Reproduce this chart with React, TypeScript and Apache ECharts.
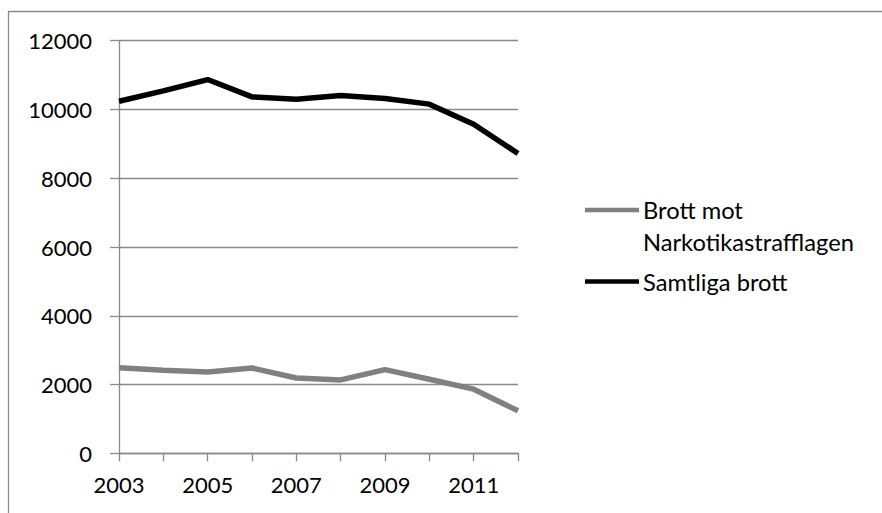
import React, { useEffect, useRef } from "react";
import * as echarts from "echarts";

const years = ["2003", "2004", "2005", "2006", "2007", "2008", "2009", "2010", "2011", "2012"];
const narkotika = [2490, 2415, 2365, 2480, 2190, 2135, 2435, 2155, 1865, 1235];
const samtliga = [10240, 10540, 10870, 10365, 10300, 10405, 10320, 10155, 9570, 8720];
const seriesNames = ["Brott mot Narkotikastrafflagen", "Samtliga brott"];
const legendLabels = ["Brott mot\nNarkotikastrafflagen", "Samtliga brott"];
const seriesColors = ["#808080", "#000000"];
const yMin = 0;
const yMax = 12000;
const yStep = 2000;

const FONT = "Lato";
const GRID = "#8a8a8a";

export default function App() {
  const ref = useRef<HTMLDivElement>(null);
  useEffect(() => {
    if (!ref.current) return;
    const chart = echarts.init(ref.current, null, { renderer: "svg" });
    chart.setOption({
      animation: false,
      backgroundColor: "#ffffff",
      grid: { left: 119, right: 364, top: 40.7, bottom: 59.7, containLabel: false },
      xAxis: {
        type: "category",
        data: years,
        boundaryGap: false,
        axisLine: { lineStyle: { color: GRID, width: 1.3 } },
        axisTick: { show: true, interval: 0, length: 8, lineStyle: { color: GRID, width: 1.3 } },
        axisLabel: { interval: 1, color: "#000", fontFamily: FONT, fontSize: 22, margin: 20 },
        splitLine: { show: false },
      },
      yAxis: {
        type: "value",
        min: yMin,
        max: yMax,
        interval: yStep,
        axisLine: { show: true, lineStyle: { color: GRID, width: 1.3 } },
        axisTick: { show: true, length: 9, lineStyle: { color: GRID, width: 1.3 } },
        axisLabel: {
          color: "#000",
          fontFamily: FONT,
          fontSize: 22,
          margin: 27,
          formatter: (v: number) => String(v),
        },
        splitLine: { show: true, lineStyle: { color: GRID, width: 1.3 } },
      },
      series: [
        {
          name: seriesNames[0],
          type: "line",
          data: narkotika,
          symbol: "none",
          lineStyle: { color: seriesColors[0], width: 5.5 },
          itemStyle: { color: seriesColors[0] },
        },
        {
          name: seriesNames[1],
          type: "line",
          data: samtliga,
          symbol: "none",
          lineStyle: { color: seriesColors[1], width: 5.5 },
          itemStyle: { color: seriesColors[1] },
        },
      ],
      graphic: [
        {
          type: "polyline",
          shape: { points: [[8.5, 600], [8.5, 11.5], [900, 11.5]] },
          style: { stroke: GRID, lineWidth: 1.3, fill: "none" },
          silent: true,
        },
        {
          type: "line",
          shape: { x1: 585, y1: 210, x2: 639, y2: 210 },
          style: { stroke: seriesColors[0], lineWidth: 4.5 },
        },
        {
          type: "text",
          x: 643,
          y: 194,
          style: {
            text: legendLabels[0],
            fill: "#000",
            font: `23.7px ${FONT}`,
            lineHeight: 32,
            verticalAlign: "top",
            align: "left",
          },
        },
        {
          type: "line",
          shape: { x1: 585, y1: 281.5, x2: 639, y2: 281.5 },
          style: { stroke: seriesColors[1], lineWidth: 4.5 },
        },
        {
          type: "text",
          x: 643,
          y: 281.5,
          style: {
            text: legendLabels[1],
            fill: "#000",
            font: `23.7px ${FONT}`,
            verticalAlign: "middle",
            align: "left",
          },
        },
      ],
    });
    return () => chart.dispose();
  }, []);
  return <div ref={ref} style={{ width: 882, height: 513, position: "absolute", left: 0, top: 0 }} />;
}
